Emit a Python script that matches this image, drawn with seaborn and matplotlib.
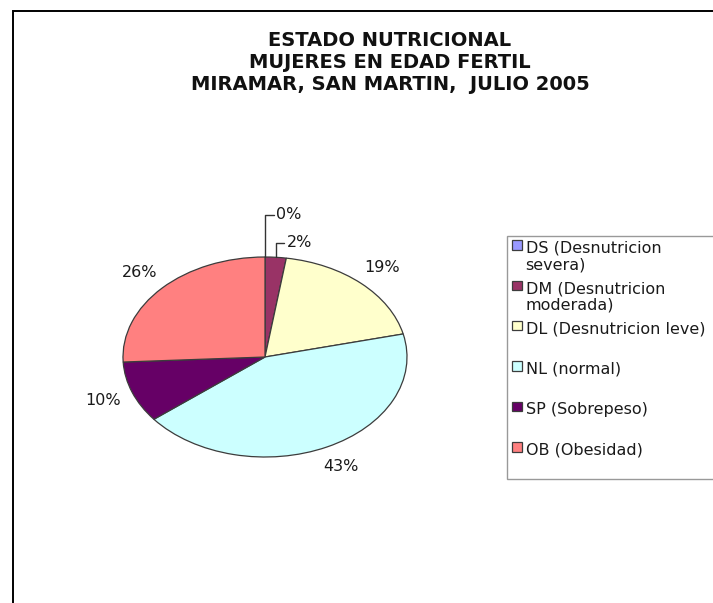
import matplotlib
matplotlib.use("Agg")
import matplotlib.pyplot as plt
import matplotlib.patches as mpatches
from matplotlib.legend_handler import HandlerPatch
import numpy as np
import seaborn as sns

# ---- data ----
categories = ["DS (Desnutricion\nsevera)", "DM (Desnutricion\nmoderada)",
              "DL (Desnutricion leve)", "NL (normal)", "SP (Sobrepeso)",
              "OB (Obesidad)"]
values = [0.0, 2.4, 18.9, 43.0, 9.9, 25.8]
colors = ["#9999FF", "#993366", "#FFFFCC", "#CCFFFF", "#660066", "#FF8080"]
title_lines = ["ESTADO NUTRICIONAL", "MUJERES EN EDAD FERTIL",
               "MIRAMAR, SAN MARTIN,  JULIO 2005"]

sns.set_style("white")
plt.rcParams["font.family"] = ["DejaVu Sans"]

W, H = 713, 603
fig = plt.figure(figsize=(W / 100, H / 100), dpi=100)
fig.patch.set_facecolor("white")

def fx(px):
    return px / W

def fy(py):
    return 1 - py / H

# chart-area border (left and top visible)
fig.add_artist(mpatches.Rectangle((fx(12.5), -0.1), 1.2, fy(10.5) + 0.1,
                                  transform=fig.transFigure, fill=False,
                                  edgecolor="black", linewidth=1.4))

# title
fig.text(fx(390), fy(62), "\n".join(title_lines), ha="center", va="center",
         fontsize=14, fontweight="bold", linespacing=1.2, color="#111111")

# pie axes (stretched ellipse)
cx, cy, a, b = 265, 357, 142, 100
ax = fig.add_axes([fx(cx - a), fy(cy + b), 2 * a / W, 2 * b / H])
wedges, texts, autotexts = ax.pie(
    values, colors=colors, startangle=90, counterclock=False,
    autopct="%.0f%%", pctdistance=1.22,
    wedgeprops=dict(edgecolor="#3c3c3c", linewidth=0.9),
    textprops=dict(fontsize=11.5, color="#1a1a1a"))
ax.set_aspect("auto")
ax.set_xlim(-1, 1)
ax.set_ylim(-1, 1)
ax.axis("off")

# leader lines for very small slices
levels = [1.42, 1.14]
k = 0
for i, w in enumerate(wedges):
    if values[i] < 5:
        t = np.deg2rad((w.theta1 + w.theta2) / 2)
        x0, y0 = np.cos(t), np.sin(t)
        lvl = levels[k] if k < len(levels) else 1.14 - 0.28 * (k - 1)
        ax.plot([x0, x0, x0 + 0.06], [y0, lvl, lvl], color="#333333",
                lw=1.0, clip_on=False)
        autotexts[i].set_position((x0 + 0.08, lvl))
        autotexts[i].set_ha("left")
        autotexts[i].set_va("center")
        k += 1

# legend with handles aligned to first line of each label
LEG_FS = 11.5
def first_line_patch(legend, orig_handle, xdescent, ydescent, width, height, fontsize):
    return mpatches.Rectangle((-xdescent, -ydescent + 8.6), width, height)

leg_labels = [c if "\n" in c else c + "\n " for c in categories]
leg = ax.legend(wedges, leg_labels, loc="upper left", mode="expand",
                bbox_to_anchor=(fx(507), fy(236), fx(800) - fx(507), 0),
                bbox_transform=fig.transFigure,
                frameon=True, fancybox=False, shadow=False, borderaxespad=0,
                borderpad=0.3, handlelength=0.62, handleheight=0.55,
                handletextpad=0.25, labelspacing=0.55,
                prop=dict(size=LEG_FS),
                handler_map={mpatches.Wedge: HandlerPatch(patch_func=first_line_patch)})
for t in leg.get_texts():
    t.set_linespacing(1.13)
    t.set_color("#1a1a1a")
leg.get_frame().set_edgecolor("#808080")
leg.get_frame().set_linewidth(1.0)

fig.savefig("out.png", dpi=100, facecolor="white")
